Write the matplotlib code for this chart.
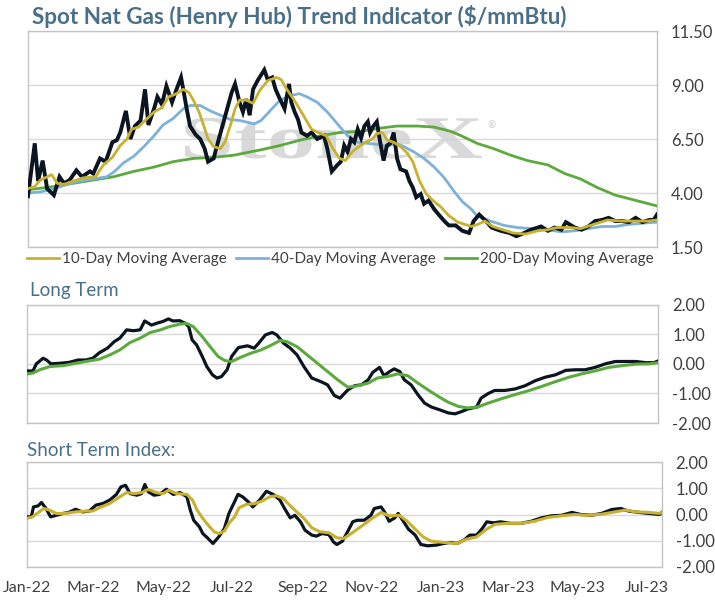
import matplotlib
matplotlib.use("Agg")
import matplotlib.pyplot as plt
import matplotlib.dates as mdates
import numpy as np
import pandas as pd
from matplotlib.ticker import FuncFormatter
from matplotlib.textpath import TextPath
from matplotlib.patches import PathPatch
from matplotlib.font_manager import FontProperties
from matplotlib.transforms import Affine2D

plt.rcParams['font.family'] = ['Lato', 'DejaVu Sans']

# ---- top panel: spot price and moving averages ($/mmBtu) ----
spot_dates = [
    "2022-01-01", "2022-01-07", "2022-01-10", "2022-01-14", "2022-01-18", "2022-01-24",
    "2022-01-29", "2022-02-02", "2022-02-07", "2022-02-13", "2022-02-18", "2022-02-25",
    "2022-02-28", "2022-03-06", "2022-03-11", "2022-03-17", "2022-03-21", "2022-03-24",
    "2022-03-29", "2022-04-02", "2022-04-06", "2022-04-11", "2022-04-15", "2022-04-18",
    "2022-04-23", "2022-04-26", "2022-04-30", "2022-05-04", "2022-05-09", "2022-05-13",
    "2022-05-17", "2022-05-19", "2022-05-22", "2022-05-25", "2022-05-30", "2022-06-03",
    "2022-06-07", "2022-06-10", "2022-06-15", "2022-06-18", "2022-06-22", "2022-06-27",
    "2022-07-01", "2022-07-04", "2022-07-08", "2022-07-11", "2022-07-14", "2022-07-17",
    "2022-07-20", "2022-07-24", "2022-07-30", "2022-08-02", "2022-08-06", "2022-08-09",
    "2022-08-12", "2022-08-17", "2022-08-21", "2022-08-23", "2022-08-26", "2022-08-29",
    "2022-09-01", "2022-09-06", "2022-09-10", "2022-09-15", "2022-09-21", "2022-09-24",
    "2022-09-28", "2022-10-03", "2022-10-06", "2022-10-09", "2022-10-12", "2022-10-15",
    "2022-10-18", "2022-10-21", "2022-10-24", "2022-10-27", "2022-10-30", "2022-11-01",
    "2022-11-04", "2022-11-07", "2022-11-10", "2022-11-13", "2022-11-16", "2022-11-19",
    "2022-11-22", "2022-11-25", "2022-11-28", "2022-12-03", "2022-12-06", "2022-12-09",
    "2022-12-12", "2022-12-16", "2022-12-19", "2022-12-23", "2022-12-28", "2023-01-01",
    "2023-01-06", "2023-01-10", "2023-01-16", "2023-01-22", "2023-01-28", "2023-02-01",
    "2023-02-06", "2023-02-12", "2023-02-17", "2023-02-25", "2023-03-05", "2023-03-11",
    "2023-03-18", "2023-03-24", "2023-04-02", "2023-04-08", "2023-04-14", "2023-04-20",
    "2023-04-24", "2023-05-02", "2023-05-08", "2023-05-14", "2023-05-20", "2023-05-26",
    "2023-06-01", "2023-06-07", "2023-06-13", "2023-06-19", "2023-06-25", "2023-07-01",
    "2023-07-07", "2023-07-11", "2023-07-14",
]
spot_vals = [
    3.85, 6.3, 4.55, 5.5, 4.2, 3.9,
    4.75, 4.45, 4.6, 5.05, 4.75, 5.0,
    4.9, 5.6, 5.45, 6.35, 6.45, 6.8,
    7.8, 6.5, 7.1, 7.35, 8.8, 7.15,
    7.9, 8.45, 8.1, 8.95, 8.2, 8.8,
    9.35, 8.8, 7.9, 7.1, 6.7, 6.5,
    6.05, 5.45, 5.6, 6.2, 6.95, 7.9,
    8.65, 9.05, 8.2, 7.75, 8.35, 7.6,
    8.8, 9.2, 9.7, 9.25, 9.35, 8.8,
    8.45, 7.9, 9.05, 8.2, 7.75, 7.4,
    6.8, 6.65, 6.8, 6.5, 6.65, 6.05,
    5.0, 5.3, 5.45, 6.2, 5.9, 6.5,
    6.35, 6.95, 6.55, 7.1, 7.3, 6.8,
    7.1, 7.3, 6.35, 5.5, 6.2, 6.3,
    6.8, 5.6, 5.1, 5.0, 4.55, 4.25,
    3.8, 3.95, 3.5, 3.65, 3.25, 3.0,
    2.7, 2.5, 2.5, 2.25, 2.15, 2.7,
    3.0, 2.7, 2.4, 2.25, 2.15, 2.0,
    2.15, 2.3, 2.45, 2.25, 2.4, 2.3,
    2.65, 2.4, 2.3, 2.45, 2.7, 2.75,
    2.85, 2.7, 2.7, 2.65, 2.85, 2.65,
    2.75, 2.75, 3.0,
]

ma10_dates = [
    "2022-01-01", "2022-01-07", "2022-01-12", "2022-01-18", "2022-01-22", "2022-01-27",
    "2022-02-02", "2022-02-10", "2022-02-19", "2022-03-02", "2022-03-09", "2022-03-17",
    "2022-03-24", "2022-03-30", "2022-04-03", "2022-04-09", "2022-04-17", "2022-04-23",
    "2022-04-30", "2022-05-06", "2022-05-13", "2022-05-19", "2022-05-24", "2022-05-28",
    "2022-06-02", "2022-06-06", "2022-06-10", "2022-06-15", "2022-06-21", "2022-06-25",
    "2022-06-30", "2022-07-04", "2022-07-08", "2022-07-14", "2022-07-20", "2022-07-26",
    "2022-08-02", "2022-08-10", "2022-08-14", "2022-08-19", "2022-08-25", "2022-09-01",
    "2022-09-06", "2022-09-10", "2022-09-16", "2022-09-23", "2022-09-29", "2022-10-05",
    "2022-10-10", "2022-10-16", "2022-10-22", "2022-10-28", "2022-11-03", "2022-11-07",
    "2022-11-12", "2022-11-16", "2022-11-22", "2022-11-28", "2022-12-04", "2022-12-09",
    "2022-12-15", "2022-12-21", "2022-12-27", "2023-01-03", "2023-01-10", "2023-01-18",
    "2023-01-24", "2023-01-30", "2023-02-05", "2023-02-11", "2023-02-18", "2023-02-27",
    "2023-03-08", "2023-03-19", "2023-03-30", "2023-04-08", "2023-04-16", "2023-04-28",
    "2023-05-07", "2023-05-19", "2023-05-31", "2023-06-12", "2023-06-24", "2023-07-06",
    "2023-07-14",
]
ma10_vals = [
    4.2, 4.3, 4.6, 4.75, 4.85, 4.45,
    4.4, 4.55, 4.7, 4.75, 5.3, 5.65,
    6.2, 6.5, 6.95, 7.05, 7.45, 7.75,
    7.95, 8.45, 8.6, 8.8, 8.65, 8.3,
    7.75, 7.15, 6.5, 6.15, 6.05, 6.35,
    7.15, 7.9, 8.3, 8.3, 8.15, 8.75,
    9.2, 9.35, 9.25, 8.8, 8.35, 7.75,
    7.3, 6.95, 6.8, 6.65, 6.05, 5.6,
    5.5, 5.9, 6.15, 6.35, 6.5, 6.75,
    6.8, 6.45, 6.35, 6.15, 5.85, 5.45,
    4.55, 3.95, 3.65, 3.35, 2.95, 2.65,
    2.55, 2.45, 2.55, 2.7, 2.45, 2.3,
    2.15, 2.1, 2.25, 2.3, 2.4, 2.4,
    2.35, 2.55, 2.75, 2.7, 2.7, 2.7,
    2.75,
]

ma40_dates = [
    "2022-01-01", "2022-01-12", "2022-01-24", "2022-02-05", "2022-02-16", "2022-02-28",
    "2022-03-12", "2022-03-19", "2022-03-27", "2022-04-05", "2022-04-14", "2022-04-23",
    "2022-05-01", "2022-05-10", "2022-05-19", "2022-05-25", "2022-06-03", "2022-06-12",
    "2022-06-21", "2022-06-30", "2022-07-09", "2022-07-21", "2022-07-27", "2022-08-04",
    "2022-08-13", "2022-08-22", "2022-08-30", "2022-09-06", "2022-09-15", "2022-09-24",
    "2022-10-03", "2022-10-12", "2022-10-21", "2022-10-30", "2022-11-07", "2022-11-16",
    "2022-11-24", "2022-12-01", "2022-12-10", "2022-12-19", "2022-12-28", "2023-01-06",
    "2023-01-15", "2023-01-22", "2023-01-30", "2023-02-04", "2023-02-16", "2023-02-28",
    "2023-03-12", "2023-03-24", "2023-04-08", "2023-04-20", "2023-05-02", "2023-05-14",
    "2023-05-26", "2023-06-07", "2023-06-19", "2023-07-01", "2023-07-14",
]
ma40_vals = [
    4.0, 4.05, 4.2, 4.4, 4.55, 4.65,
    4.75, 5.0, 5.4, 5.7, 6.15, 6.65,
    7.15, 7.45, 7.9, 8.05, 8.05, 7.8,
    7.6, 7.4, 7.35, 7.2, 7.35, 7.8,
    8.3, 8.5, 8.6, 8.45, 8.2, 7.75,
    7.2, 6.65, 6.35, 6.3, 6.25, 6.15,
    6.3, 6.15, 5.9, 5.6, 5.2, 4.7,
    4.05, 3.6, 3.25, 2.95, 2.7, 2.5,
    2.4, 2.35, 2.3, 2.2, 2.25, 2.35,
    2.45, 2.45, 2.55, 2.6, 2.65,
]

ma200_dates = [
    "2022-01-01", "2022-01-24", "2022-02-22", "2022-03-18", "2022-04-05", "2022-04-23",
    "2022-05-10", "2022-05-28", "2022-06-15", "2022-07-03", "2022-07-27", "2022-08-13",
    "2022-08-31", "2022-09-18", "2022-10-05", "2022-10-23", "2022-11-10", "2022-11-25",
    "2022-12-13", "2022-12-28", "2023-01-12", "2023-01-21", "2023-02-04", "2023-02-19",
    "2023-03-06", "2023-03-21", "2023-04-08", "2023-04-23", "2023-05-07", "2023-05-22",
    "2023-06-07", "2023-06-22", "2023-07-03", "2023-07-14",
]
ma200_vals = [
    4.15, 4.3, 4.55, 4.75, 5.0, 5.2,
    5.45, 5.6, 5.65, 5.75, 6.0, 6.2,
    6.45, 6.65, 6.8, 6.85, 7.0, 7.1,
    7.1, 7.05, 6.85, 6.65, 6.3, 6.05,
    5.75, 5.5, 5.3, 4.9, 4.65, 4.25,
    3.9, 3.7, 3.55, 3.4,
]

# ---- long term index ----
lt_dates = [
    "2022-01-01", "2022-01-06", "2022-01-09", "2022-01-15", "2022-01-18", "2022-01-22",
    "2022-01-30", "2022-02-07", "2022-02-15", "2022-02-22", "2022-02-28", "2022-03-06",
    "2022-03-13", "2022-03-19", "2022-03-24", "2022-03-30", "2022-04-05", "2022-04-11",
    "2022-04-15", "2022-04-21", "2022-04-27", "2022-05-01", "2022-05-06", "2022-05-10",
    "2022-05-16", "2022-05-21", "2022-05-24", "2022-05-27", "2022-05-31", "2022-06-05",
    "2022-06-09", "2022-06-14", "2022-06-18", "2022-06-22", "2022-06-27", "2022-07-01",
    "2022-07-07", "2022-07-15", "2022-07-21", "2022-07-25", "2022-07-31", "2022-08-06",
    "2022-08-10", "2022-08-16", "2022-08-22", "2022-08-28", "2022-09-03", "2022-09-10",
    "2022-09-18", "2022-09-24", "2022-09-30", "2022-10-05", "2022-10-12", "2022-10-18",
    "2022-10-24", "2022-10-30", "2022-11-03", "2022-11-09", "2022-11-13", "2022-11-18",
    "2022-11-22", "2022-11-27", "2022-12-01", "2022-12-07", "2022-12-13", "2022-12-19",
    "2022-12-25", "2023-01-01", "2023-01-09", "2023-01-15", "2023-01-21", "2023-01-26",
    "2023-02-03", "2023-02-07", "2023-02-13", "2023-02-19", "2023-02-28", "2023-03-09",
    "2023-03-18", "2023-03-27", "2023-04-05", "2023-04-14", "2023-04-23", "2023-05-02",
    "2023-05-10", "2023-05-19", "2023-05-28", "2023-06-06", "2023-06-15", "2023-06-24",
    "2023-07-03", "2023-07-10", "2023-07-14",
]
lt_vals = [
    -0.24, -0.24, 0.0, 0.19, 0.13, 0.0,
    0.02, 0.05, 0.13, 0.13, 0.19, 0.38,
    0.53, 0.75, 0.87, 1.15, 1.12, 1.15,
    1.45, 1.31, 1.39, 1.43, 1.52, 1.45,
    1.46, 1.37, 1.26, 0.81, 0.64, 0.25,
    -0.09, -0.37, -0.48, -0.43, -0.2, 0.25,
    0.55, 0.61, 0.53, 0.7, 0.98, 1.06,
    0.98, 0.7, 0.53, 0.3, -0.09, -0.48,
    -0.6, -0.71, -1.07, -1.16, -0.88, -0.74,
    -0.71, -0.54, -0.29, -0.12, -0.4, -0.26,
    -0.17, -0.26, -0.54, -0.71, -1.04, -1.33,
    -1.46, -1.55, -1.66, -1.69, -1.61, -1.53,
    -1.46, -1.16, -1.01, -0.9, -0.9, -0.85,
    -0.74, -0.57, -0.45, -0.37, -0.22, -0.2,
    -0.2, -0.12, 0.0, 0.08, 0.08, 0.08,
    0.04, 0.04, 0.1,
]
lt_sig_dates = [
    "2022-01-01", "2022-01-06", "2022-01-12", "2022-01-21", "2022-02-02", "2022-02-13",
    "2022-02-25", "2022-03-06", "2022-03-15", "2022-03-24", "2022-04-02", "2022-04-11",
    "2022-04-20", "2022-04-29", "2022-05-07", "2022-05-16", "2022-05-22", "2022-05-28",
    "2022-06-05", "2022-06-12", "2022-06-19", "2022-06-25", "2022-07-01", "2022-07-09",
    "2022-07-18", "2022-07-27", "2022-08-04", "2022-08-13", "2022-08-19", "2022-08-28",
    "2022-09-06", "2022-09-15", "2022-09-24", "2022-10-03", "2022-10-12", "2022-10-21",
    "2022-10-30", "2022-11-07", "2022-11-16", "2022-11-25", "2022-12-04", "2022-12-13",
    "2022-12-22", "2022-12-31", "2023-01-09", "2023-01-18", "2023-01-26", "2023-02-04",
    "2023-02-13", "2023-02-25", "2023-03-09", "2023-03-21", "2023-04-02", "2023-04-14",
    "2023-04-26", "2023-05-07", "2023-05-19", "2023-05-31", "2023-06-12", "2023-06-24",
    "2023-07-06", "2023-07-14",
]
lt_sig_vals = [
    -0.34, -0.31, -0.2, -0.09, -0.06, 0.02,
    0.1, 0.16, 0.3, 0.47, 0.72, 0.87,
    1.06, 1.15, 1.26, 1.34, 1.37, 1.26,
    0.92, 0.58, 0.25, 0.11, 0.08, 0.22,
    0.36, 0.47, 0.61, 0.79, 0.75, 0.58,
    0.3, 0.02, -0.26, -0.54, -0.79, -0.74,
    -0.65, -0.48, -0.43, -0.34, -0.4, -0.65,
    -0.88, -1.1, -1.3, -1.44, -1.49, -1.46,
    -1.33, -1.18, -1.04, -0.91, -0.76, -0.6,
    -0.45, -0.34, -0.24, -0.12, -0.06, -0.01,
    0.0, 0.04,
]

# ---- short term index ----
st_dates = [
    "2022-01-01", "2022-01-05", "2022-01-07", "2022-01-11", "2022-01-14", "2022-01-18",
    "2022-01-22", "2022-01-27", "2022-02-02", "2022-02-07", "2022-02-13", "2022-02-19",
    "2022-02-25", "2022-03-03", "2022-03-09", "2022-03-15", "2022-03-21", "2022-03-25",
    "2022-03-29", "2022-04-02", "2022-04-08", "2022-04-12", "2022-04-15", "2022-04-18",
    "2022-04-23", "2022-04-28", "2022-05-04", "2022-05-10", "2022-05-16", "2022-05-22",
    "2022-05-25", "2022-05-28", "2022-06-02", "2022-06-05", "2022-06-09", "2022-06-14",
    "2022-06-19", "2022-06-24", "2022-06-28", "2022-07-03", "2022-07-06", "2022-07-10",
    "2022-07-15", "2022-07-19", "2022-07-25", "2022-07-31", "2022-08-06", "2022-08-12",
    "2022-08-16", "2022-08-21", "2022-08-25", "2022-08-30", "2022-09-03", "2022-09-09",
    "2022-09-13", "2022-09-18", "2022-09-24", "2022-09-28", "2022-10-01", "2022-10-06",
    "2022-10-10", "2022-10-15", "2022-10-19", "2022-10-25", "2022-10-31", "2022-11-03",
    "2022-11-09", "2022-11-12", "2022-11-16", "2022-11-21", "2022-11-24", "2022-11-28",
    "2022-12-03", "2022-12-09", "2022-12-14", "2022-12-20", "2022-12-28", "2023-01-03",
    "2023-01-09", "2023-01-15", "2023-01-21", "2023-01-26", "2023-02-01", "2023-02-06",
    "2023-02-10", "2023-02-16", "2023-02-22", "2023-03-03", "2023-03-12", "2023-03-21",
    "2023-03-30", "2023-04-08", "2023-04-17", "2023-04-26", "2023-05-04", "2023-05-13",
    "2023-05-22", "2023-05-31", "2023-06-08", "2023-06-15", "2023-06-24", "2023-07-03",
    "2023-07-12", "2023-07-14",
]
st_vals = [
    -0.09, -0.09, 0.29, 0.33, 0.46, 0.23,
    -0.09, -0.03, 0.04, 0.08, 0.2, 0.1,
    0.13, 0.36, 0.42, 0.55, 0.77, 1.06,
    1.12, 0.8, 0.74, 0.8, 1.15, 0.87,
    0.74, 0.77, 0.97, 0.77, 0.84, 0.68,
    0.17, -0.22, -0.47, -0.73, -0.89, -1.11,
    -0.86, -0.54, 0.04, 0.49, 0.77, 0.68,
    0.49, 0.29, 0.55, 0.89, 0.77, 0.55,
    0.23, -0.13, -0.03, -0.28, -0.6, -0.79,
    -0.83, -0.73, -0.77, -1.05, -1.15, -1.02,
    -0.7, -0.28, -0.22, -0.22, -0.03, 0.23,
    0.29, 0.1, -0.26, -0.13, 0.04, -0.22,
    -0.56, -0.79, -1.15, -1.2, -1.17, -1.11,
    -1.07, -1.11, -0.98, -0.79, -0.79, -0.54,
    -0.28, -0.32, -0.28, -0.34, -0.34, -0.26,
    -0.13, -0.05, -0.03, 0.08, 0.0, -0.03,
    0.04, 0.19, 0.23, 0.13, 0.08, 0.04,
    0.0, 0.08,
]
st_sig_dates = [
    "2022-01-01", "2022-01-06", "2022-01-12", "2022-01-16", "2022-01-21", "2022-01-27",
    "2022-02-04", "2022-02-13", "2022-02-22", "2022-02-28", "2022-03-06", "2022-03-15",
    "2022-03-24", "2022-03-30", "2022-04-06", "2022-04-12", "2022-04-18", "2022-04-26",
    "2022-05-01", "2022-05-06", "2022-05-13", "2022-05-22", "2022-05-27", "2022-05-31",
    "2022-06-05", "2022-06-11", "2022-06-15", "2022-06-19", "2022-06-24", "2022-06-28",
    "2022-07-03", "2022-07-07", "2022-07-13", "2022-07-21", "2022-07-27", "2022-08-03",
    "2022-08-09", "2022-08-15", "2022-08-19", "2022-08-25", "2022-09-02", "2022-09-09",
    "2022-09-16", "2022-09-24", "2022-10-01", "2022-10-07", "2022-10-13", "2022-10-24",
    "2022-11-01", "2022-11-09", "2022-11-16", "2022-11-25", "2022-12-01", "2022-12-09",
    "2022-12-16", "2022-12-23", "2023-01-03", "2023-01-15", "2023-01-23", "2023-02-01",
    "2023-02-10", "2023-02-17", "2023-02-28", "2023-03-12", "2023-03-24", "2023-04-05",
    "2023-04-17", "2023-04-28", "2023-05-10", "2023-05-22", "2023-06-03", "2023-06-12",
    "2023-06-21", "2023-07-03", "2023-07-12", "2023-07-14",
]
st_sig_vals = [
    -0.15, -0.09, 0.1, 0.23, 0.17, 0.04,
    0.04, 0.1, 0.13, 0.13, 0.26, 0.42,
    0.68, 0.84, 0.8, 0.84, 0.96, 0.83,
    0.8, 0.93, 0.8, 0.77, 0.55, 0.17,
    -0.15, -0.47, -0.66, -0.73, -0.64, -0.34,
    -0.09, 0.26, 0.38, 0.42, 0.51, 0.68,
    0.72, 0.61, 0.42, 0.17, -0.15, -0.51,
    -0.66, -0.7, -0.89, -0.92, -0.75, -0.41,
    -0.15, 0.08, -0.05, -0.03, -0.22, -0.56,
    -0.86, -1.02, -1.07, -1.11, -0.95, -0.86,
    -0.56, -0.38, -0.34, -0.34, -0.26, -0.11,
    -0.05, 0.0, -0.03, 0.01, 0.1, 0.17,
    0.1, 0.08, 0.04, 0.08,
]

month_ticks = ["2022-01-01", "2022-03-01", "2022-05-01", "2022-07-01", "2022-09-01",
               "2022-11-01", "2023-01-01", "2023-03-01", "2023-05-01", "2023-07-01"]

BLACK = "#0b1421"
GOLD = "#c8b12f"
BLUE = "#7cb2da"
GREEN = "#5caa3e"
TITLE_C = "#4a6f89"
LABEL_C = "#404040"
GRID_C = "#d9d9d9"
SPINE_C = "#c4c4c4"

x_start = pd.Timestamp("2022-01-01")
x_end = pd.Timestamp("2023-07-14")
W, H = 715, 600


def d(lst):
    return pd.to_datetime(lst)


def style_axis(ax, ticks):
    ax.set_xlim(x_start, x_end)
    ax.set_ylim(ticks[0], ticks[-1])
    ax.set_yticks(ticks)
    ax.yaxis.tick_right()
    ax.yaxis.set_major_formatter(FuncFormatter(lambda v, p: f"{v:.2f}"))
    ax.tick_params(axis='y', length=0, pad=10, labelsize=12, labelcolor=LABEL_C)
    for lab in ax.get_yticklabels():
        lab.set_horizontalalignment('left')
    ax.yaxis.grid(True, color=GRID_C, lw=1)
    ax.set_axisbelow(True)
    for s in ax.spines.values():
        s.set_color(SPINE_C)
        s.set_linewidth(1)
    ax.set_xticks(d(month_ticks))
    ax.tick_params(axis='x', length=0)


fig = plt.figure(figsize=(W / 100, H / 100), dpi=100)

# pixel boxes (left, top, right, bottom)
def add_ax(l, t, r, b):
    return fig.add_axes([l / W, 1 - b / H, (r - l) / W, (b - t) / H])


ax1 = add_ax(28, 31, 657, 247)
ax2 = add_ax(27.3, 304.7, 658.3, 423)
ax3 = add_ax(26.7, 462.3, 661.7, 566.7)

# top panel
style_axis(ax1, [1.5, 4.0, 6.5, 9.0, 11.5])
ax1.set_xticklabels([])
ax1.plot(d(ma200_dates), ma200_vals, color=GREEN, lw=2.0, label="200-Day Moving Average", zorder=3)
ax1.plot(d(ma40_dates), ma40_vals, color=BLUE, lw=2.0, label="40-Day Moving Average", zorder=4)
ax1.plot(d(spot_dates), spot_vals, color=BLACK, lw=2.8, zorder=5, solid_joinstyle='miter')
ax1.plot(d(ma10_dates), ma10_vals, color=GOLD, lw=2.0, label="10-Day Moving Average", zorder=6)

# StoneX watermark, stretched to the reference footprint
tp = TextPath((0, 0), "StoneX", size=1,
              prop=FontProperties(family="Liberation Serif", weight="bold"))
bb = tp.get_extents()
sx = 297 / bb.width
sy = 40 / 0.66
wm = PathPatch(tp, facecolor="#d3d3d3", edgecolor="none", alpha=0.85, zorder=2,
               transform=Affine2D().translate(-bb.x0, 0).scale(sx, sy).translate(185, H - 158))
ax1.add_patch(wm)
fig.text(487 / W, 1 - 126 / H, "\u00ae", fontsize=7, color="#c8c8c8", ha='left', va='center')

handles, labels = ax1.get_legend_handles_labels()
order = [2, 1, 0]
fig.legend([handles[i] for i in order], [labels[i] for i in order],
           loc='center', bbox_to_anchor=(340 / W, 1 - 259 / H), ncol=3, frameon=False,
           fontsize=11, handlelength=2.1, handletextpad=0.2, columnspacing=0.6,
           labelcolor=LABEL_C, borderaxespad=0)

# long term panel
style_axis(ax2, [-2, -1, 0, 1, 2])
ax2.set_xticklabels([])
ax2.plot(d(lt_dates), lt_vals, color=BLACK, lw=2.3, zorder=3)
ax2.plot(d(lt_sig_dates), lt_sig_vals, color=GREEN, lw=2.2, zorder=4)

# short term panel
style_axis(ax3, [-2, -1, 0, 1, 2])
ax3.plot(d(st_dates), st_vals, color=BLACK, lw=2.3, zorder=3)
ax3.plot(d(st_sig_dates), st_sig_vals, color=GOLD, lw=2.2, zorder=4)
ax3.xaxis.set_major_formatter(mdates.DateFormatter("%b-%y"))
ax3.tick_params(axis='x', labelsize=11.5, labelcolor=LABEL_C, pad=10)

fig.text(32 / W, 1 - 16 / H, "Spot Nat Gas (Henry Hub) Trend Indicator ($/mmBtu)",
         fontsize=16.2, fontweight='bold', color=TITLE_C, ha='left', va='center')
fig.text(30 / W, 1 - 290 / H, "Long Term", fontsize=13.5, color=TITLE_C, ha='left', va='center')
fig.text(27 / W, 1 - 451 / H, "Short Term Index:", fontsize=13.5, color=TITLE_C,
         ha='left', va='center')

fig.savefig("out.png", dpi=100)
